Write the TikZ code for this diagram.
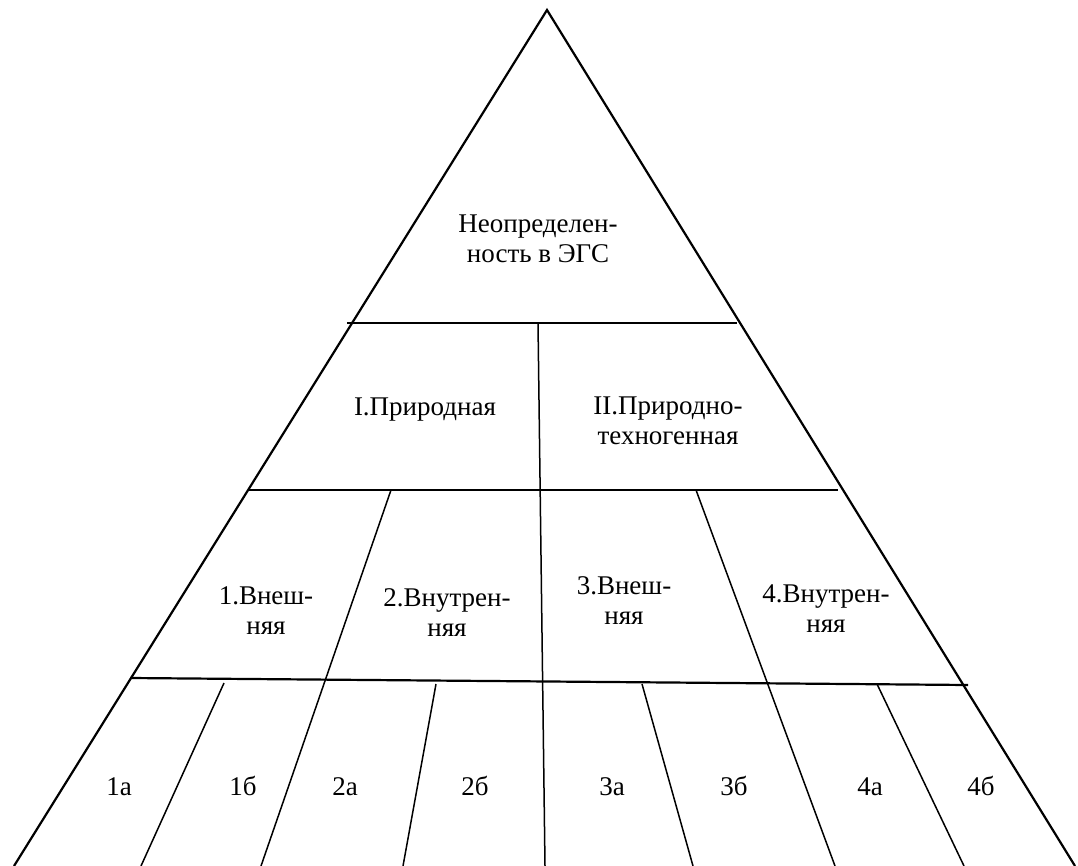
\documentclass[tikz,border=0pt]{standalone}
\usepackage{fontspec}
\setmainfont{Liberation Serif}
\tikzset{
  outer/.style={line width=2.2pt},
  divider/.style={line width=1.5pt},
  lbl/.style={font=\fontsize{27}{30}\selectfont,align=center,inner sep=0pt}
}
\begin{document}
\begin{tikzpicture}[x=1pt,y=-1pt]
			\useasboundingbox (0,0) rectangle (1078,866);
			% corners and ends of the lines
			\coordinate (apex) at (547,10);
			\coordinate (bl) at (14,866);
			\coordinate (br) at (1075,866);
			\coordinate (h1a) at (347,323);
			\coordinate (h1b) at (737,323);
			\coordinate (h2a) at (248,490);
			\coordinate (h2b) at (838,490);
			\coordinate (h3a) at (130,678);
			\coordinate (h3b) at (968,685);
			\coordinate (m1) at (538,323);
			\coordinate (m2) at (545,866);
			\coordinate (d2t) at (391,490);
			\coordinate (d2b) at (261,866);
			\coordinate (d4t) at (696,490);
			\coordinate (d4b) at (835,866);
			\coordinate (s1t) at (224,683);
			\coordinate (s1b) at (141,866);
			\coordinate (s2t) at (436,684);
			\coordinate (s2b) at (403,866);
			\coordinate (s3t) at (642,684);
			\coordinate (s3b) at (693,866);
			\coordinate (s4t) at (877,684);
			\coordinate (s4b) at (964,866);

			\begin{scope}[every node/.style={lbl}]
			\node (top) at (538,239) {Неопределен-\\ность в ЭГС};
			\node[anchor=base] (n1) at (425,415) {I.Природная};
			\node (n2) at (668,421) {II.Природно-\\техногенная};
			\node (k1) at (266,611) {1.Внеш-\\няя};
			\node (k2) at (447,613) {2.Внутрен-\\няя};
			\node (k3) at (624,601) {3.Внеш-\\няя};
			\node (k4) at (826,609) {4.Внутрен-\\няя};
			\node[anchor=base] (p1a) at (119,795) {1а};
			\node[anchor=base] (p1b) at (243,795) {1б};
			\node[anchor=base] (p2a) at (345,795) {2а};
			\node[anchor=base] (p2b) at (475,795) {2б};
			\node[anchor=base] (p3a) at (612,795) {3а};
			\node[anchor=base] (p3b) at (734,795) {3б};
			\node[anchor=base] (p4a) at (870,795) {4а};
			\node[anchor=base] (p4b) at (981,795) {4б};
			\end{scope}

			\draw[outer] (bl) -- (apex) -- (br);
			\draw[outer] (h1a) -- (h1b);
			\draw[outer] (h2a) -- (h2b);
			\draw[outer] (h3a) -- (h3b);
			\draw[divider] (m1) -- (m2);
			\draw[divider] (d2t) -- (d2b);
			\draw[divider] (d4t) -- (d4b);
			\draw[divider] (s1t) -- (s1b);
			\draw[divider] (s2t) -- (s2b);
			\draw[divider] (s3t) -- (s3b);
			\draw[divider] (s4t) -- (s4b);
\end{tikzpicture}
\end{document}
